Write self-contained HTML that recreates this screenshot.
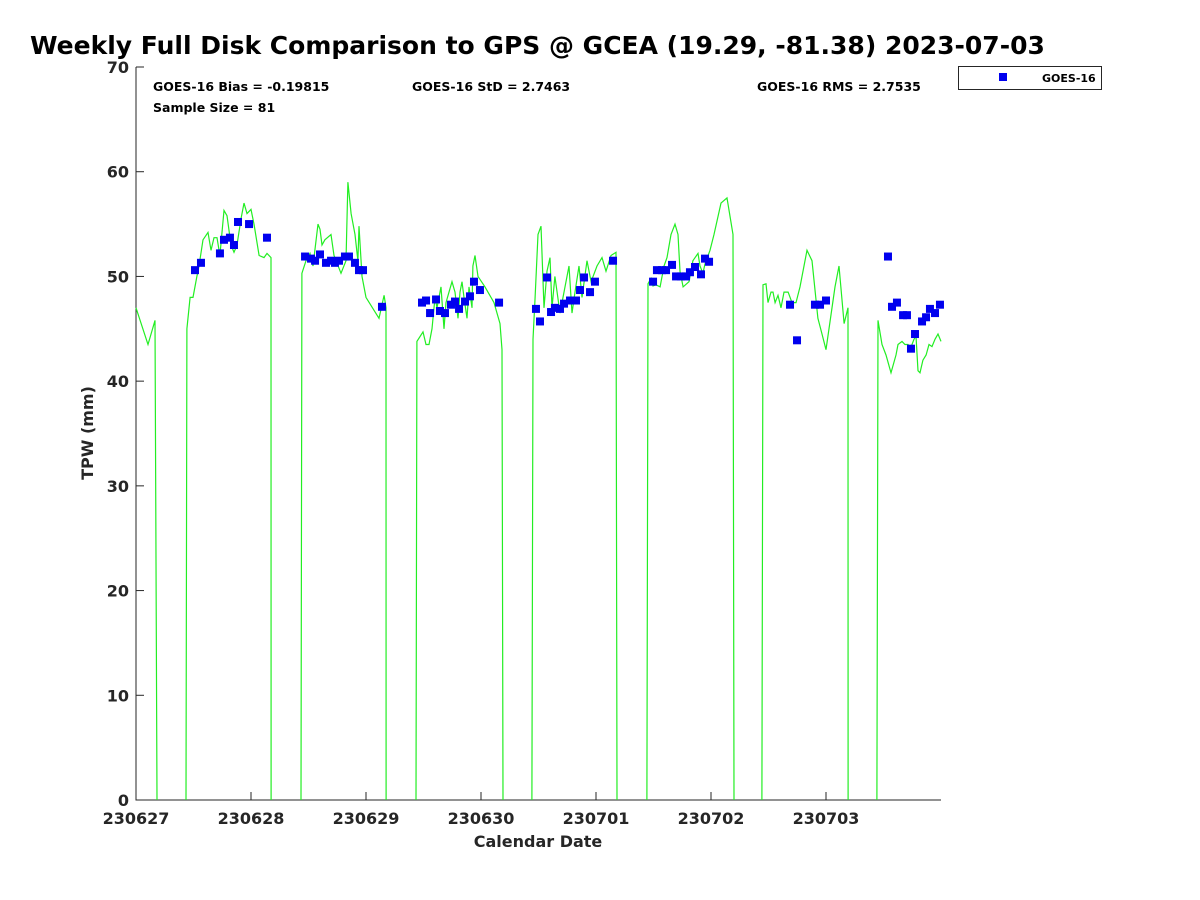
<!DOCTYPE html>
<html><head><meta charset="utf-8"><style>
body{margin:0;background:#fff;}
svg{display:block;font-family:"Liberation Sans","DejaVu Sans",sans-serif;}
</style></head><body>
<svg id="chart" width="1200" height="900">
<text x="30" y="54" font-size="25" font-weight="bold" fill="#000" font-family="DejaVu Sans, sans-serif">Weekly Full Disk Comparison to GPS @ GCEA (19.29, -81.38) 2023-07-03</text>
<g id="plot"></g>
</svg>
<script>
const xTickLabels=["230627","230628","230629","230630","230701","230702","230703"];
const yTickLabels=[0,10,20,30,40,50,60,70];
const gpsT=[0,0.104,0.165,0.183,null,0.435,0.443,0.470,0.496,0.530,0.548,0.583,0.626,0.652,0.678,0.704,0.730,0.765,0.791,0.826,0.852,0.878,0.913,0.939,0.965,1.0,1.026,1.070,1.113,1.139,1.174,1.175,null,1.435,1.443,1.478,1.513,1.539,1.583,1.6,1.617,1.643,1.696,1.722,1.783,1.826,1.843,1.870,1.904,1.930,1.939,1.965,2.0,2.113,2.157,2.174,2.175,null,2.435,2.443,2.496,2.522,2.548,2.574,2.6,2.617,2.652,2.678,2.696,2.722,2.748,2.774,2.8,2.817,2.835,2.852,2.878,2.896,2.922,2.930,2.948,2.974,3.035,3.113,3.165,3.183,3.191,null,3.443,3.452,3.470,3.496,3.522,3.548,3.574,3.6,3.617,3.643,3.687,3.730,3.765,3.791,3.817,3.852,3.878,3.922,3.957,4.009,4.052,4.087,4.130,4.174,4.183,null,4.443,4.452,4.478,4.496,4.522,4.557,4.591,4.617,4.652,4.687,4.713,4.730,4.757,4.809,4.843,4.887,4.904,4.930,4.948,4.991,5.026,5.087,5.139,5.191,5.2,null,5.443,5.452,5.478,5.496,5.522,5.539,5.557,5.583,5.609,5.635,5.670,5.704,5.739,5.774,5.835,5.878,5.930,5.965,6.0,6.078,6.113,6.157,6.191,6.192,null,6.443,6.452,6.487,6.522,6.565,6.609,6.626,6.661,6.687,6.713,6.730,6.765,6.783,6.8,6.817,6.843,6.870,6.896,6.922,6.948,6.974,7.0];
const gpsV=[47,43.5,45.8,0,null,0,45,48,48,50,51,53.5,54.2,52.5,53.7,53.7,52,56.3,55.8,53,52.3,53,55.5,57,56,56.4,55,52,51.8,52.2,51.8,0,null,0,50.3,51.5,52.2,51,55,54.5,53,53.5,54,52,50.3,51.5,59,56,54,51.5,54.8,50,48,46,48.2,47,0,null,0,43.8,44.7,43.5,43.5,45,48,47,49,45,47.5,48.5,49.5,48.5,46,48.5,49.5,48,46,49,47,51,52,50,49,47.5,45.5,43,0,null,0,44,48,54,54.8,47,50.5,51.8,47,50,46.5,49,51,46.5,48.5,51,48,51.5,49.5,51,51.8,50.5,52,52.3,0,null,0,49.3,49.8,49.1,49.2,49,51,51.8,54,55,54,50.5,49,49.5,51.5,52.2,51,50.3,51.2,52.5,54,57,57.5,54,0,null,0,49.2,49.3,47.5,48.5,48.5,47.5,48.2,47,48.5,48.5,47.5,47.5,49,52.5,51.5,46,44.5,43,49,51,45.5,47,0,null,0,45.8,43.5,42.5,40.8,42.5,43.5,43.8,43.5,43.5,43,44,44.3,41,40.8,42,42.5,43.5,43.3,44,44.5,43.8];
const goesT=[0.513,0.565,0.730,0.765,0.817,0.852,0.887,0.983,1.139,1.470,1.522,1.557,1.600,1.652,1.696,1.730,1.765,1.817,1.852,1.904,1.939,1.974,2.139,2.487,2.522,2.557,2.609,2.643,2.687,2.739,2.774,2.809,2.861,2.904,2.939,2.991,3.157,3.478,3.513,3.574,3.609,3.643,3.687,3.722,3.774,3.826,3.861,3.896,3.948,3.991,4.148,4.496,4.530,4.574,4.609,4.661,4.696,4.739,4.783,4.817,4.861,4.913,4.948,4.983,5.687,5.748,5.904,5.948,6.0,6.539,6.574,6.617,6.670,6.704,6.739,6.774,6.835,6.870,6.904,6.948,6.991];
const goesV=[50.6,51.3,52.2,53.5,53.7,53,55.2,55,53.7,51.9,51.7,51.5,52.1,51.3,51.5,51.3,51.5,51.9,51.9,51.3,50.6,50.6,47.1,47.5,47.7,46.5,47.8,46.7,46.5,47.3,47.6,46.9,47.6,48.1,49.5,48.7,47.5,46.9,45.7,49.9,46.6,47,46.9,47.4,47.7,47.7,48.7,49.9,48.5,49.5,51.5,49.5,50.6,50.6,50.6,51.1,50,50,50,50.4,50.9,50.2,51.7,51.4,47.3,43.9,47.3,47.3,47.7,51.9,47.1,47.5,46.3,46.3,43.1,44.5,45.7,46.1,46.9,46.5,47.3];
const stats=["GOES-16 Bias = -0.19815","GOES-16 StD = 2.7463","GOES-16 RMS = 2.7535","Sample Size = 81"];

const L=136,R=941,T=67,B=800;
const xs=d=>L+(R-L)*d/7;
const ys=v=>B-(B-T)*v/70;
const NS="http://www.w3.org/2000/svg";
const g=document.getElementById('plot');
function mk(tag,attrs,txt){const e=document.createElementNS(NS,tag);for(const k in attrs)e.setAttribute(k,attrs[k]);if(txt!==undefined)e.textContent=txt;g.appendChild(e);return e;}

// axes
let ax=mk('path',{d:`M${L},${T}V${B}H${R}`,fill:'none',stroke:'#262626','stroke-width':1});


yTickLabels.forEach(v=>{
  const y=ys(v);
  let t=mk('path',{d:`M${L},${y}h8`,stroke:'#262626'});
  
  
  let lb=mk('text',{x:L-7,y:y+6,'text-anchor':'end','font-size':16,'font-weight':'bold',fill:'#262626','font-family':'DejaVu Sans, sans-serif'},String(v));
  
  
});
xTickLabels.forEach((s,i)=>{
  const x=xs(i);
  let t=mk('path',{d:`M${x},${B}v-8`,stroke:'#262626'});
  
  
  let lb=mk('text',{x:x,y:B+24,'text-anchor':'middle','font-size':16,'font-weight':'bold',fill:'#262626','font-family':'DejaVu Sans, sans-serif'},s);
  
  
});
let xt=mk('text',{x:538,y:847,'text-anchor':'middle','font-size':16,'font-weight':'bold',fill:'#262626','font-family':'DejaVu Sans, sans-serif'},'Calendar Date');


let yt=mk('text',{x:0,y:0,transform:'translate(93,433) rotate(-90)','text-anchor':'middle','font-size':16,'font-weight':'bold',fill:'#262626','font-family':'DejaVu Sans, sans-serif'},'TPW (mm)');



// gps line
let d='',pen=false;
gpsT.forEach((t,i)=>{
  if(t===null){pen=false;return;}
  d+=(pen?'L':'M')+xs(t).toFixed(1)+','+ys(gpsV[i]).toFixed(1);pen=true;
});
let ln=mk('path',{d:d,fill:'none',stroke:'#22ee22','stroke-width':1.2});



// goes points
goesT.forEach((t,i)=>{
  let r=mk('rect',{x:xs(t)-4,y:ys(goesV[i])-4,width:8,height:8,fill:'#0000ee'});
  
  
});

// stats
const sp=[[153,91],[412,91],[757,91],[153,112]];
stats.forEach((s,i)=>{
  let e=mk('text',{x:sp[i][0],y:sp[i][1],'font-size':12.5,'font-weight':'bold',fill:'#000','font-family':'DejaVu Sans, sans-serif'},s);
  
  
});

// legend
let lg=mk('rect',{x:958.5,y:66.5,width:143,height:23,fill:'#fff',stroke:'#262626'});


let lm=mk('rect',{x:999,y:73,width:8,height:8,fill:'#0000ee'});


let lt=mk('text',{x:1042,y:82,'font-size':11,'font-weight':'bold',fill:'#000','font-family':'DejaVu Sans, sans-serif'},'GOES-16');


</script>
</body></html>
